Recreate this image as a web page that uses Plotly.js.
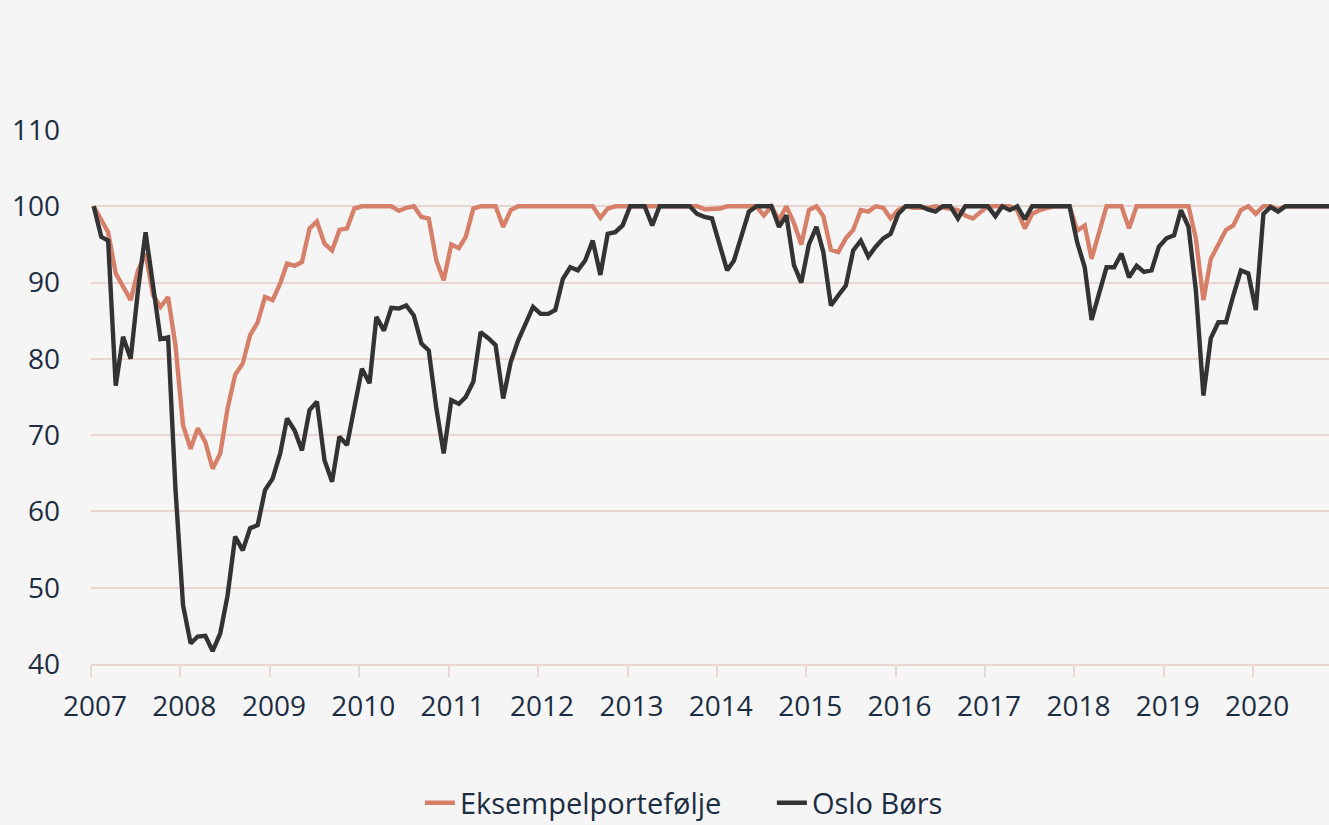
<!DOCTYPE html>
<html>
<head>
<meta charset="utf-8">
<script src="https://cdn.plot.ly/plotly-3.0.1.min.js"></script>
<style>
html,body{margin:0;padding:0;background:#f5f5f5;}
#chart{width:1329px;height:825px;}
</style>
</head>
<body>
<div id="chart"></div>
<script>
// Monthly series, Jan 2007 .. Nov 2020 (mid-month observations)
const startYear = 2007;
const seriesNames = ["Eksempelportefølje", "Oslo Børs"];
const yearTicks = [2007, 2008, 2009, 2010, 2011, 2012, 2013, 2014, 2015, 2016, 2017, 2018, 2019, 2020];

const eksempelportefolje = [
  100, 98.2, 96.6, 91.2, 89.6, 87.7, 91.6, 93.8, 88.3, 86.8, 88.1, 81.8,
  71.3, 68.2, 70.9, 69.1, 65.6, 67.6, 73.5, 77.9, 79.4, 83.1, 84.8, 88.1,
  87.7, 89.9, 92.5, 92.2, 92.7, 97.1, 98.0, 95.1, 94.2, 96.9, 97.1, 99.7,
  100, 100, 100, 100, 100, 99.4, 99.8, 100, 98.6, 98.4, 92.9, 90.3,
  95.0, 94.5, 96.0, 99.7, 100, 100, 100, 97.3, 99.5, 100, 100, 100,
  100, 100, 100, 100, 100, 100, 100, 100, 98.5, 99.7, 100, 100,
  100, 100, 100, 100, 100, 100, 100, 100, 100, 100, 99.6, 99.6,
  99.7, 100, 100, 100, 100, 100, 98.8, 100, 98.2, 100, 97.8, 95.0,
  99.5, 100, 98.7, 94.3, 94.0, 95.8, 96.9, 99.5, 99.3, 100, 99.8, 98.4,
  99.5, 100, 99.8, 99.8, 99.8, 100, 99.8, 99.6, 99.5, 98.8, 98.4, 99.2,
  100, 100, 100, 100, 99.5, 97.1, 99.0, 99.5, 99.8, 100, 100, 100,
  96.8, 97.5, 93.1, 96.4, 100, 100, 100, 97.1, 100, 100, 100, 100,
  100, 100, 100, 100, 95.8, 87.7, 93.1, 94.9, 96.9, 97.5, 99.5, 100,
  99.0, 100, 100, 99.6, 100, 100, 100, 100, 100, 100, 100
];

const osloBors = [
  100, 96.0, 95.5, 76.5, 82.9, 80.0, 89.0, 96.6, 89.5, 82.6, 82.8, 63.0,
  47.7, 42.7, 43.6, 43.7, 41.7, 44.0, 49.0, 56.7, 54.9, 57.8, 58.2, 62.8,
  64.3, 67.6, 72.2, 70.6, 68.0, 73.3, 74.4, 66.7, 63.9, 69.8, 68.7, 73.8,
  78.7, 76.8, 85.5, 83.7, 86.7, 86.6, 87.0, 85.7, 82.0, 81.1, 73.5, 67.6,
  74.6, 74.1, 75.0, 77.0, 83.5, 82.7, 81.8, 74.8, 79.6, 82.4, 84.8, 86.8,
  85.9, 85.9, 86.4, 90.5, 92.0, 91.6, 92.9, 95.5, 91.0, 96.4, 96.6, 97.5,
  100, 100, 100, 97.5, 100, 100, 100, 100, 100, 99.0, 98.6, 98.4,
  95.1, 91.6, 92.9, 96.2, 99.3, 100, 100, 100, 97.3, 98.8, 92.3, 90.0,
  95.0, 97.3, 94.0, 87.0, 88.3, 89.6, 94.2, 95.5, 93.4, 94.7, 95.8, 96.4,
  99.0, 100, 100, 100, 99.6, 99.3, 100, 100, 98.4, 100, 100, 100,
  100, 98.7, 100, 99.5, 100, 98.3, 100, 100, 100, 100, 100, 100,
  95.3, 92.0, 85.1, 88.6, 92.0, 92.0, 93.8, 90.7, 92.2, 91.4, 91.6, 94.7,
  95.8, 96.2, 99.5, 97.3, 89.0, 75.2, 82.7, 84.8, 84.8, 88.3, 91.6, 91.2,
  86.4, 99.0, 99.9, 99.3, 100, 100, 100, 100, 100, 100, 100
];

const dates = [];
for (let i = 0; i < osloBors.length; i++) {
  const y = startYear + Math.floor(i / 12);
  const m = (i % 12) + 1;
  dates.push(y + "-" + (m < 10 ? "0" + m : m) + "-12");
}

const textColor = "#1c2d42";
const gridColor = "#ead6d0";
const fontFamily = "'Open Sans', 'Noto Sans', sans-serif";

const traces = [
  {
    x: dates, y: eksempelportefolje, name: seriesNames[0], type: "scatter", mode: "lines",
    line: {color: "#d6806a", width: 4.4}
  },
  {
    x: dates, y: osloBors, name: seriesNames[1], type: "scatter", mode: "lines",
    line: {color: "#333333", width: 4.4}
  }
];

const layout = {
  width: 1329, height: 825,
  paper_bgcolor: "#f5f5f5", plot_bgcolor: "#f5f5f5",
  margin: {l: 91, r: 0, t: 130, b: 161, pad: 0, autoexpand: false},
  font: {family: fontFamily, color: textColor, size: 28},
  showlegend: true,
  legend: {
    orientation: "h", x: 0.55, xanchor: "center", y: -0.26, yanchor: "middle",
    font: {size: 29, color: textColor, family: fontFamily},
    bgcolor: "rgba(0,0,0,0)", traceorder: "normal",
    entrywidth: 307
  },
  xaxis: {
    type: "date",
    range: ["2007-01-01", "2020-11-06"],
    tickvals: yearTicks.map(y => y + "-01-01"),
    ticktext: yearTicks.map(String),
    ticks: "outside", ticklen: 11, tickwidth: 2, tickcolor: gridColor,
    showline: true, linecolor: gridColor, linewidth: 2,
    showgrid: false, zeroline: false, automargin: false,
    tickfont: {size: 28, color: textColor, family: fontFamily},
    ticklabelshift: 4, ticklabelstandoff: 5
  },
  yaxis: {
    range: [40, 110], dtick: 10, tick0: 40,
    showgrid: true, gridcolor: gridColor, gridwidth: 2,
    zeroline: false, showline: false, automargin: false,
    ticks: "", ticklabelstandoff: 30,
    tickfont: {size: 28, color: textColor, family: fontFamily}
  }
};

Plotly.newPlot("chart", traces, layout, {displayModeBar: false, staticPlot: true});
</script>
</body>
</html>
